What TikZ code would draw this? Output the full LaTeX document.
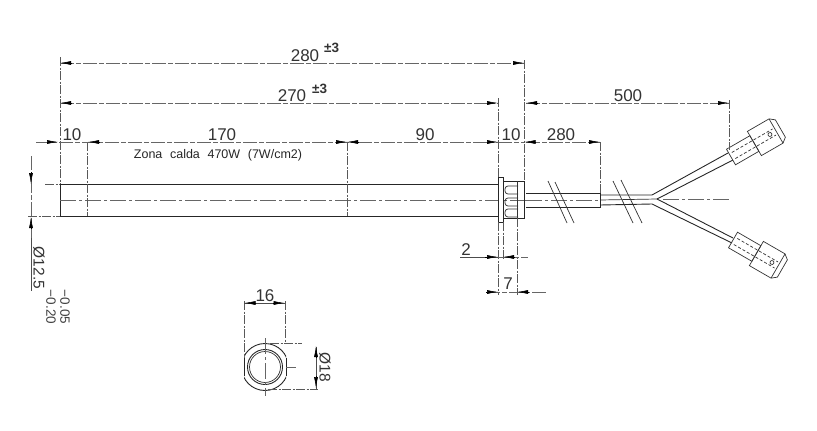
\documentclass[tikz,border=0pt]{standalone}
\usepackage{fontspec}
\setmainfont{Liberation Sans}
\usetikzlibrary{arrows.meta}
\tikzset{
  part/.style={draw=black!85,line width=0.9pt},
  thin part/.style={draw=black!80,line width=0.7pt},
  dimline/.style={draw=black!60,line width=0.6pt,dash pattern=on 14pt off 2pt on 5pt off 2pt},
  extline/.style={draw=black!65,line width=0.6pt,dash pattern=on 9pt off 1.5pt on 2pt off 1.5pt},
  centre/.style={draw=black!60,line width=0.6pt,dash pattern=on 16pt off 3pt on 3pt off 3pt},
  tip/.style={draw=black,line width=0.5pt,-{Latex[length=11pt,width=4pt]}},
  dimtext/.style={font=\fontsize{17}{17}\selectfont,text=black!80,inner sep=0pt},
  rottext/.style={font=\fontsize{15.5}{16}\selectfont,text=black!80,inner sep=0pt,rotate=-90},
  smalltext/.style={font=\fontsize{12.5}{13}\selectfont,text=black!85,inner sep=0pt},
  supertext/.style={font=\fontsize{13.5}{14}\selectfont\bfseries,text=black!80,inner sep=0pt},
  tol/.style={font=\fontsize{13.5}{14}\selectfont,text=black!75,inner sep=0pt,rotate=-90},
  pics/conn/.style={code={
    \draw[thin part] (0,-9) -- (27,-9) -- (27,9) -- (0,9) -- cycle;
    \draw[thin part] (27,-14) -- (52,-14) -- (57,-10) -- (57,10) -- (52,14) -- (27,14) -- cycle;
    \draw[thin part] (52,-14) -- (52,14);
    \draw[thin part,densely dashed] (3,-3.5) -- (50,-3.5) (3,3.5) -- (50,3.5);
    \draw[thin part] (45,0) circle (2);
  }}
}
\begin{document}
\begin{tikzpicture}[x=1pt,y=-1pt]
\useasboundingbox (0,0) rectangle (817,431);
% heater body
\draw[part] (60,184) rectangle (498,216.5);
\draw[centre] (60,200) -- (530,200);
% flange and nut
\draw[part,fill=white] (498,177) rectangle (503,222);
\draw[part] (503,181) -- (524,181) -- (524,218) -- (503,218);
\foreach \y in {186,198,209}{
  \draw[thin part,rounded corners=3pt] (518,\y) -- (505,\y) -- (505,\y+8) -- (518,\y+8);
}
\draw[thin part] (517,181) -- (517,218);
% cable
\draw[part] (526,193) -- (600,193) -- (600,207) -- (526,207);
\draw[part] (600,195) -- (652,195) -- (728,153);
\draw[part] (600,205) -- (652,204) -- (732,243);
\draw[thin part] (600,200) -- (657,199);
\draw[part] (657,199) -- (733,160);
\draw[part] (657,199) -- (733,238);
\draw[centre] (526,200) -- (600,200);
\draw[centre] (663,199) -- (731,199);
% break marks
\draw[thin part] (548,181) -- (567,223) (555,182) -- (574,223);
\draw[thin part] (613,181) -- (633,223) (621,180) -- (642,223);
% connectors
\pic at (731,157) [rotate=30] {conn};
\pic at (733,240) [rotate=-30] {conn};
% extension lines
\draw[extline] (60,57) -- (60,184);
\draw[extline] (87,142) -- (87,216);
\draw[extline] (347,142) -- (347,216);
\draw[extline] (498,98) -- (498,177) (498,222) -- (498,295);
\draw[extline] (524,60) -- (524,180);
\draw[extline] (503,222) -- (503,260);
\draw[extline] (517,218) -- (517,295);
\draw[extline] (600,142) -- (600,193);
\draw[extline] (729,100) -- (729,150);
\draw[extline] (45,184) -- (60,184);
\draw[extline] (28,216.5) -- (60,216.5);
% dimension lines
\draw[dimline] (60,63) -- (524,63);
\draw[dimline] (60,103) -- (498,103);
\draw[dimline] (526,103) -- (729,103);
\draw[dimline] (36,142) -- (498,142);
\draw[dimline] (498,142) -- (524,142);
\draw[dimline] (526,142) -- (600,142);
\draw[dimline] (31,156) -- (31,238);
\draw[black!70,line width=0.7pt] (31,238) -- (31,291);
\draw[black!70,line width=0.7pt] (460,257) -- (498,257);
\draw[dimline] (498,257) -- (528,257);
\draw[dimline] (486,292) -- (546,292);
% arrow heads
\draw[tip] (72,63) -- (60,63);
\draw[tip] (513,63) -- (524,63);
\draw[tip] (71,103) -- (60,103);
\draw[tip] (487,103) -- (498,103);
\draw[tip] (537,103) -- (526,103);
\draw[tip] (718,103) -- (729,103);
\draw[tip] (47,142) -- (58,142);
\draw[tip] (99,142) -- (88,142);
\draw[tip] (336,142) -- (347,142);
\draw[tip] (358,142) -- (347,142);
\draw[tip] (487,142) -- (498,142);
\draw[tip] (535,142) -- (524.5,142);
\draw[tip] (589,142) -- (600,142);
\draw[tip] (31,172) -- (31,184);
\draw[tip] (31,229) -- (31,217);
\draw[tip] (485,257) -- (498,257);
\draw[tip] (515,257) -- (503,257);
\draw[tip] (486,292) -- (498,292);
\draw[tip] (529,292) -- (517,292);
% end view
\draw[part] (265,367) circle (17.5);
\draw[thin part] (265,367) circle (15.5);
\begin{scope}
  \clip (244,340) rectangle (286,392);
  \draw[part] (265,367) circle (23.5);
\end{scope}
\draw[part] (244,358) -- (244,376) (286,358) -- (286,376);
\draw[centre] (265,338) -- (265,396);
\draw[centre] (286,367) -- (296,367);
\draw[extline] (244,301) -- (244,358);
\draw[extline] (285,301) -- (285,343);
\draw[extline] (270,343) -- (302,343);
\draw[extline] (268,389) -- (318,389);
\draw[black!70,line width=0.5pt] (244,303) -- (285,303);
\draw[black!70,line width=0.5pt] (316,347) -- (316,389);
\draw[tip] (256,303) -- (244.5,303);
\draw[tip] (273,303) -- (284.5,303);
\draw[tip] (316,358) -- (316,346);
\draw[tip] (316,376) -- (316,388);
% texts
\node[dimtext] (t280) at (305,56) {280};
\node[supertext,anchor=west] (t280t) at (324,48) {±3};
\node[dimtext] (t270) at (292,96) {270};
\node[supertext,anchor=west] (t270t) at (312,89) {±3};
\node[dimtext] (a10) at (72,135) {10};
\node[dimtext] (a170) at (222,135) {170};
\node[dimtext] (a90) at (425,135) {90};
\node[dimtext] (b10) at (511,135) {10};
\node[dimtext] (a500) at (628,96) {500};
\node[dimtext] (a280) at (561,135) {280};
\node[smalltext] (zona) at (218,155) {Zona\,\, calda\,\, 470W\,\, (7W/cm2)};
\node[rottext] (d125) at (39,268) {Ø12.5};
\node[tol] (tola) at (65,307) {−0.05};
\node[tol] (tolb) at (51,307) {−0.20};
\node[dimtext] (two) at (466,250) {2};
\node[dimtext] (seven) at (508,284) {7};
\node[dimtext] (sixteen) at (265,296) {16};
\node[rottext] (d18) at (325,367) {Ø18};
\end{tikzpicture}
\end{document}
